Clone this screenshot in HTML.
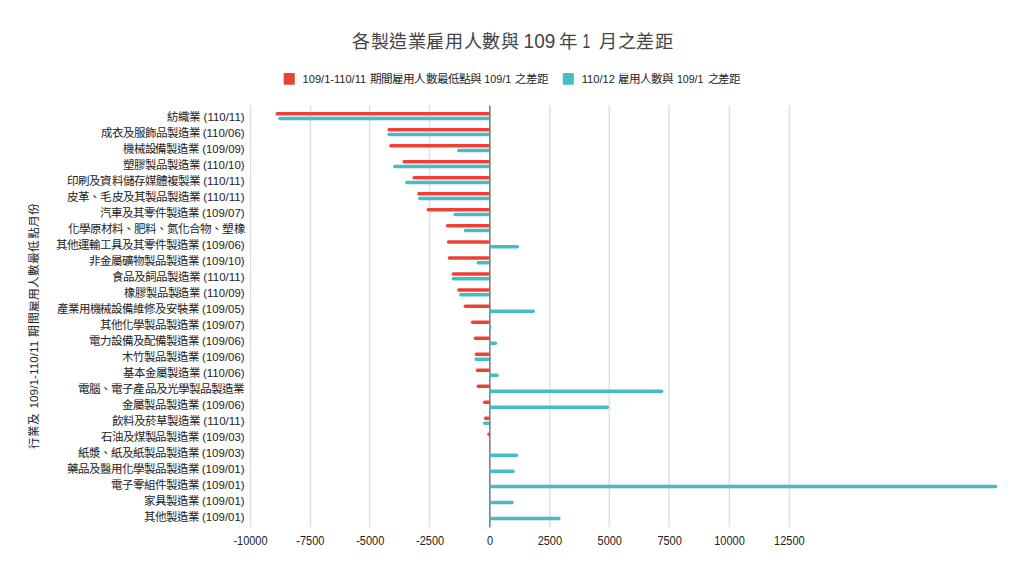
<!DOCTYPE html>
<html lang="zh-TW"><head><meta charset="utf-8"><title>chart</title>
<style>
html,body{margin:0;padding:0;background:#fff;width:1024px;height:577px;overflow:hidden}
svg{display:block;font-family:"Liberation Sans",sans-serif}
.lab text{font-size:11.5px;fill:#222}
.xt text{font-size:12.3px;fill:#222}
</style></head><body>
<svg width="1024" height="577" viewBox="0 0 1024 577">
<rect width="1024" height="577" fill="#fff"/>
<text x="351.90" y="47.6" font-size="18.5" fill="#444" textLength="167.50" lengthAdjust="spacingAndGlyphs">各製造業雇用人數與</text><text x="523.60" y="47.6" font-size="19.5" fill="#444" textLength="31.70" lengthAdjust="spacingAndGlyphs">109</text><text x="559.30" y="47.6" font-size="18.5" fill="#444" textLength="19.00" lengthAdjust="spacingAndGlyphs">年</text><text x="582.60" y="47.6" font-size="19.5" fill="#444" textLength="7.80" lengthAdjust="spacingAndGlyphs">1</text><text x="598.90" y="47.6" font-size="18.5" fill="#444" textLength="74.50" lengthAdjust="spacingAndGlyphs">月之差距</text>
<rect x="283.7" y="73.1" width="11.1" height="11.7" rx="1" fill="#ea4335"/>
<text x="302.60" y="83.2" font-size="11.5" fill="#222" textLength="63.60" lengthAdjust="spacingAndGlyphs">109/1-110/11</text><text x="370.00" y="83.2" font-size="11.5" fill="#222" textLength="111.00" lengthAdjust="spacingAndGlyphs">期間雇用人數最低點與</text><text x="484.30" y="83.2" font-size="11.5" fill="#222" textLength="27.00" lengthAdjust="spacingAndGlyphs">109/1</text><text x="515.30" y="83.2" font-size="11.5" fill="#222" textLength="32.70" lengthAdjust="spacingAndGlyphs">之差距</text>
<rect x="562.8" y="73.1" width="11.1" height="11.7" rx="1" fill="#46bdc6"/>
<text x="581.70" y="83.2" font-size="11.5" fill="#222" textLength="33.30" lengthAdjust="spacingAndGlyphs">110/12</text><text x="618.00" y="83.2" font-size="11.5" fill="#222" textLength="55.40" lengthAdjust="spacingAndGlyphs">雇用人數與</text><text x="676.90" y="83.2" font-size="11.5" fill="#222" textLength="26.60" lengthAdjust="spacingAndGlyphs">109/1</text><text x="707.50" y="83.2" font-size="11.5" fill="#222" textLength="32.70" lengthAdjust="spacingAndGlyphs">之差距</text>
<g><line x1="250.50" y1="105.5" x2="250.50" y2="527.1" stroke="#e0e0e0" stroke-width="1.5"/><line x1="310.50" y1="105.5" x2="310.50" y2="527.1" stroke="#e0e0e0" stroke-width="1.5"/><line x1="369.60" y1="105.5" x2="369.60" y2="527.1" stroke="#e0e0e0" stroke-width="1.5"/><line x1="429.50" y1="105.5" x2="429.50" y2="527.1" stroke="#e0e0e0" stroke-width="1.5"/><line x1="549.90" y1="105.5" x2="549.90" y2="527.1" stroke="#e0e0e0" stroke-width="1.5"/><line x1="609.30" y1="105.5" x2="609.30" y2="527.1" stroke="#e0e0e0" stroke-width="1.5"/><line x1="669.10" y1="105.5" x2="669.10" y2="527.1" stroke="#e0e0e0" stroke-width="1.5"/><line x1="729.40" y1="105.5" x2="729.40" y2="527.1" stroke="#e0e0e0" stroke-width="1.5"/><line x1="789.40" y1="105.5" x2="789.40" y2="527.1" stroke="#e0e0e0" stroke-width="1.5"/></g>
<g><rect x="275.50" y="111.95" width="214.70" height="3.5" rx="1.75" fill="#ea4335"/><rect x="278.20" y="116.80" width="212.00" height="3.5" rx="1.75" fill="#46bdc6"/><rect x="387.40" y="127.95" width="102.80" height="3.5" rx="1.75" fill="#ea4335"/><rect x="387.40" y="132.80" width="102.80" height="3.5" rx="1.75" fill="#46bdc6"/><rect x="389.20" y="143.95" width="101.00" height="3.5" rx="1.75" fill="#ea4335"/><rect x="457.00" y="148.80" width="33.20" height="3.5" rx="1.75" fill="#46bdc6"/><rect x="402.40" y="159.95" width="87.80" height="3.5" rx="1.75" fill="#ea4335"/><rect x="393.10" y="164.80" width="97.10" height="3.5" rx="1.75" fill="#46bdc6"/><rect x="412.40" y="175.95" width="77.80" height="3.5" rx="1.75" fill="#ea4335"/><rect x="405.10" y="180.80" width="85.10" height="3.5" rx="1.75" fill="#46bdc6"/><rect x="417.10" y="191.95" width="73.10" height="3.5" rx="1.75" fill="#ea4335"/><rect x="418.10" y="196.80" width="72.10" height="3.5" rx="1.75" fill="#46bdc6"/><rect x="426.50" y="207.95" width="63.70" height="3.5" rx="1.75" fill="#ea4335"/><rect x="453.30" y="212.80" width="36.90" height="3.5" rx="1.75" fill="#46bdc6"/><rect x="445.90" y="223.95" width="44.30" height="3.5" rx="1.75" fill="#ea4335"/><rect x="463.70" y="228.80" width="26.50" height="3.5" rx="1.75" fill="#46bdc6"/><rect x="446.90" y="240.15" width="43.30" height="3.5" rx="1.75" fill="#ea4335"/><rect x="447.60" y="256.15" width="42.60" height="3.5" rx="1.75" fill="#ea4335"/><rect x="476.50" y="261.00" width="13.70" height="3.5" rx="1.75" fill="#46bdc6"/><rect x="451.50" y="272.15" width="38.70" height="3.5" rx="1.75" fill="#ea4335"/><rect x="451.50" y="277.00" width="38.70" height="3.5" rx="1.75" fill="#46bdc6"/><rect x="457.10" y="288.15" width="33.10" height="3.5" rx="1.75" fill="#ea4335"/><rect x="459.00" y="293.00" width="31.20" height="3.5" rx="1.75" fill="#46bdc6"/><rect x="463.60" y="304.55" width="26.60" height="3.5" rx="1.75" fill="#ea4335"/><rect x="470.90" y="320.55" width="19.30" height="3.5" rx="1.75" fill="#ea4335"/><rect x="473.70" y="336.55" width="16.50" height="3.5" rx="1.75" fill="#ea4335"/><rect x="474.70" y="352.55" width="15.50" height="3.5" rx="1.75" fill="#ea4335"/><rect x="474.50" y="357.40" width="15.70" height="3.5" rx="1.75" fill="#46bdc6"/><rect x="475.70" y="368.55" width="14.50" height="3.5" rx="1.75" fill="#ea4335"/><rect x="476.50" y="384.55" width="13.70" height="3.5" rx="1.75" fill="#ea4335"/><rect x="482.90" y="400.55" width="7.30" height="3.5" rx="1.75" fill="#ea4335"/><rect x="483.90" y="416.55" width="6.30" height="3.5" rx="1.75" fill="#ea4335"/><rect x="482.90" y="421.40" width="7.30" height="3.5" rx="1.75" fill="#46bdc6"/><rect x="487.30" y="432.55" width="2.90" height="3.5" rx="1.75" fill="#ea4335"/></g>
<rect x="489.1" y="105.5" width="1.5" height="422" fill="#777"/>
<g><rect x="489.00" y="245.00" width="30.10" height="3.5" rx="1.75" fill="#46bdc6"/><rect x="489.00" y="309.40" width="45.90" height="3.5" rx="1.75" fill="#46bdc6"/><rect x="489.00" y="325.40" width="2.50" height="3.5" rx="1.75" fill="#46bdc6"/><rect x="489.00" y="341.40" width="8.10" height="3.5" rx="1.75" fill="#46bdc6"/><rect x="489.00" y="373.40" width="9.70" height="3.5" rx="1.75" fill="#46bdc6"/><rect x="489.00" y="389.40" width="174.40" height="3.5" rx="1.75" fill="#46bdc6"/><rect x="489.00" y="405.40" width="120.00" height="3.5" rx="1.75" fill="#46bdc6"/><rect x="489.00" y="453.40" width="29.20" height="3.5" rx="1.75" fill="#46bdc6"/><rect x="489.00" y="469.40" width="25.60" height="3.5" rx="1.75" fill="#46bdc6"/><rect x="489.00" y="484.80" width="508.40" height="3.5" rx="1.75" fill="#46bdc6"/><rect x="489.00" y="500.80" width="24.80" height="3.5" rx="1.75" fill="#46bdc6"/><rect x="489.00" y="516.80" width="71.60" height="3.5" rx="1.75" fill="#46bdc6"/></g>
<g class="lab"><text x="244.6" y="120.6" text-anchor="end" textLength="77.13" lengthAdjust="spacingAndGlyphs">紡織業 (110/11)</text><text x="244.6" y="136.6" text-anchor="end" textLength="143.79" lengthAdjust="spacingAndGlyphs">成衣及服飾品製造業 (110/06)</text><text x="244.6" y="152.6" text-anchor="end" textLength="121.83" lengthAdjust="spacingAndGlyphs">機械設備製造業 (109/09)</text><text x="244.6" y="168.6" text-anchor="end" textLength="121.29" lengthAdjust="spacingAndGlyphs">塑膠製品製造業 (110/10)</text><text x="244.6" y="184.6" text-anchor="end" textLength="177.33" lengthAdjust="spacingAndGlyphs">印刷及資料儲存媒體複製業 (110/11)</text><text x="244.6" y="200.6" text-anchor="end" textLength="177.33" lengthAdjust="spacingAndGlyphs">皮革、毛皮及其製品製造業 (110/11)</text><text x="244.6" y="216.6" text-anchor="end" textLength="144.63" lengthAdjust="spacingAndGlyphs">汽車及其零件製造業 (109/07)</text><text x="244.6" y="232.6" text-anchor="end" textLength="177" lengthAdjust="spacingAndGlyphs">化學原材料、肥料、氮化合物、塑橡</text><text x="244.6" y="248.6" text-anchor="end" textLength="188.83" lengthAdjust="spacingAndGlyphs">其他運輸工具及其零件製造業 (109/06)</text><text x="244.6" y="264.6" text-anchor="end" textLength="155.53" lengthAdjust="spacingAndGlyphs">非金屬礦物製品製造業 (109/10)</text><text x="244.6" y="280.6" text-anchor="end" textLength="132.73" lengthAdjust="spacingAndGlyphs">食品及飼品製造業 (110/11)</text><text x="244.6" y="296.6" text-anchor="end" textLength="120.29" lengthAdjust="spacingAndGlyphs">橡膠製品製造業 (110/09)</text><text x="244.6" y="312.6" text-anchor="end" textLength="187.83" lengthAdjust="spacingAndGlyphs">產業用機械設備維修及安裝業 (109/05)</text><text x="244.6" y="328.6" text-anchor="end" textLength="144.63" lengthAdjust="spacingAndGlyphs">其他化學製品製造業 (109/07)</text><text x="244.6" y="344.6" text-anchor="end" textLength="155.53" lengthAdjust="spacingAndGlyphs">電力設備及配備製造業 (109/06)</text><text x="244.6" y="360.6" text-anchor="end" textLength="122.13" lengthAdjust="spacingAndGlyphs">木竹製品製造業 (109/06)</text><text x="244.6" y="376.6" text-anchor="end" textLength="121.29" lengthAdjust="spacingAndGlyphs">基本金屬製造業 (110/06)</text><text x="244.6" y="392.6" text-anchor="end" textLength="166.7" lengthAdjust="spacingAndGlyphs">電腦、電子產品及光學製品製造業</text><text x="244.6" y="408.6" text-anchor="end" textLength="122.13" lengthAdjust="spacingAndGlyphs">金屬製品製造業 (109/06)</text><text x="244.6" y="424.6" text-anchor="end" textLength="132.73" lengthAdjust="spacingAndGlyphs">飲料及菸草製造業 (110/11)</text><text x="244.6" y="440.6" text-anchor="end" textLength="143.63" lengthAdjust="spacingAndGlyphs">石油及煤製品製造業 (109/03)</text><text x="244.6" y="456.6" text-anchor="end" textLength="166.73" lengthAdjust="spacingAndGlyphs">紙漿、紙及紙製品製造業 (109/03)</text><text x="244.6" y="472.6" text-anchor="end" textLength="178.03" lengthAdjust="spacingAndGlyphs">藥品及醫用化學製品製造業 (109/01)</text><text x="244.6" y="488.6" text-anchor="end" textLength="133.43" lengthAdjust="spacingAndGlyphs">電子零組件製造業 (109/01)</text><text x="244.6" y="504.6" text-anchor="end" textLength="100.33" lengthAdjust="spacingAndGlyphs">家具製造業 (109/01)</text><text x="244.6" y="520.6" text-anchor="end" textLength="100.33" lengthAdjust="spacingAndGlyphs">其他製造業 (109/01)</text></g>
<g class="xt"><text x="250.50" y="545" text-anchor="middle" textLength="34.19" lengthAdjust="spacingAndGlyphs">-10000</text><text x="310.38" y="545" text-anchor="middle" textLength="28.08" lengthAdjust="spacingAndGlyphs">-7500</text><text x="370.25" y="545" text-anchor="middle" textLength="28.08" lengthAdjust="spacingAndGlyphs">-5000</text><text x="430.12" y="545" text-anchor="middle" textLength="28.08" lengthAdjust="spacingAndGlyphs">-2500</text><text x="490.00" y="545" text-anchor="middle" textLength="6.11" lengthAdjust="spacingAndGlyphs">0</text><text x="549.88" y="545" text-anchor="middle" textLength="24.43" lengthAdjust="spacingAndGlyphs">2500</text><text x="609.75" y="545" text-anchor="middle" textLength="24.43" lengthAdjust="spacingAndGlyphs">5000</text><text x="669.62" y="545" text-anchor="middle" textLength="24.43" lengthAdjust="spacingAndGlyphs">7500</text><text x="729.50" y="545" text-anchor="middle" textLength="30.53" lengthAdjust="spacingAndGlyphs">10000</text><text x="789.38" y="545" text-anchor="middle" textLength="30.53" lengthAdjust="spacingAndGlyphs">12500</text></g>
<g transform="translate(37.6,0) rotate(-90)"><text x="-448.60" y="0" font-size="11.6" fill="#222" textLength="35.40" lengthAdjust="spacingAndGlyphs">行業及</text><text x="-408.60" y="0" font-size="11.6" fill="#222" textLength="68.00" lengthAdjust="spacingAndGlyphs">109/1-110/11</text><text x="-336.50" y="0" font-size="11.6" fill="#222" textLength="133.50" lengthAdjust="spacingAndGlyphs">期間雇用人數最低點月份</text></g>
</svg>
</body></html>
